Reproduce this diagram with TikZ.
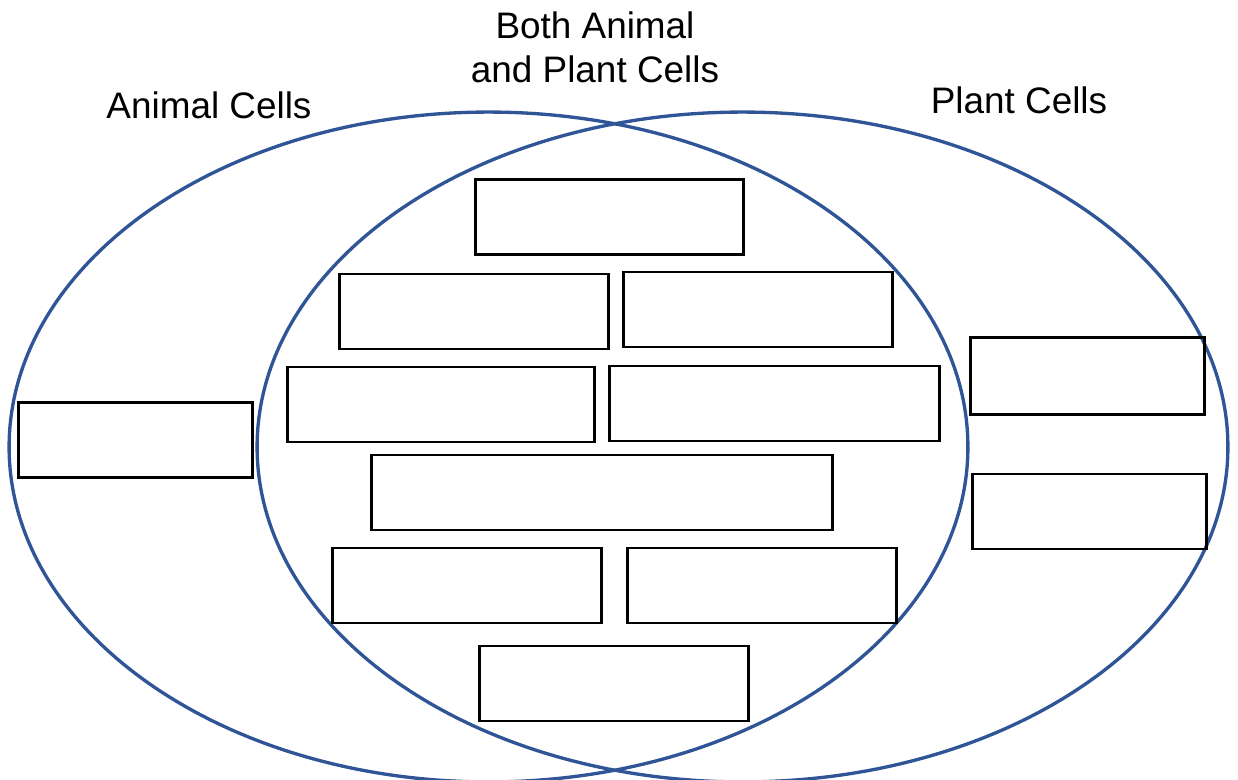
\documentclass[tikz,border=0pt]{standalone}
\usepackage{fontspec}
\setmainfont{Liberation Sans}
\usepackage{tikz}
\definecolor{vennblue}{RGB}{47,85,151}

\begin{document}
\begin{tikzpicture}[x=0.02cm, y=-0.02cm,
  box/.style={shape=rectangle, draw=black, line width=1.3pt, inner sep=0pt, minimum height=1.5cm},
  lbl/.style={font=\fontsize{21}{25.5}\selectfont, inner sep=0pt}]
\useasboundingbox (0,0) rectangle (1238,780);

\draw[vennblue, line width=1.9pt] (488.5,447) ellipse [x radius=9.59cm, y radius=6.7cm];
\draw[vennblue, line width=1.9pt] (742.5,447) ellipse [x radius=9.71cm, y radius=6.7cm];

\node[lbl, anchor=base] (animal) at (209, 119) {Animal Cells};
\node[lbl, anchor=base] (plant) at (1019, 114) {Plant Cells};
\node[lbl, anchor=north, align=center] (both) at (595, 11) {Both Animal\\and Plant Cells};

\node[box, minimum width=4.68cm] (L1) at (135.5, 440) {};

\node[box, minimum width=5.36cm] (B1) at (609.5, 217) {};
\node[box, minimum width=5.38cm] (B2) at (474, 311.5) {};
\node[box, minimum width=5.38cm] (B3) at (758, 309.5) {};
\node[box, minimum width=6.14cm] (B4) at (441, 404.5) {};
\node[box, minimum width=6.60cm] (B5) at (774.5, 403.5) {};
\node[box, minimum width=9.22cm] (B6) at (602, 492.5) {};
\node[box, minimum width=5.38cm] (B7) at (467, 585.5) {};
\node[box, minimum width=5.38cm] (B8) at (762, 585.5) {};
\node[box, minimum width=5.38cm] (B9) at (614, 683.5) {};

\node[box, minimum width=4.68cm, minimum height=1.54cm] (R1) at (1087.5, 376) {};
\node[box, minimum width=4.68cm] (R2) at (1089.5, 511.5) {};

\end{tikzpicture}
\end{document}
